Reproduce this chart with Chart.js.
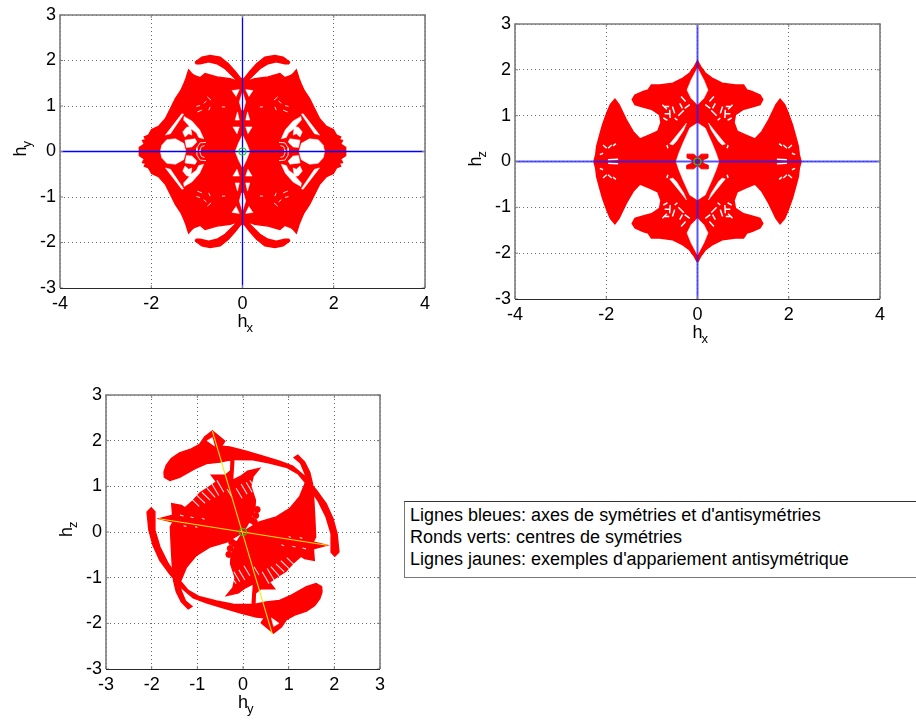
<!DOCTYPE html>
<html><head><meta charset="utf-8">
<script src="https://cdn.jsdelivr.net/npm/chart.js@4"></script>
<style>
html,body{margin:0;padding:0;background:#fff;width:916px;height:720px;overflow:hidden}
canvas{position:absolute;display:block}
#note{position:absolute;left:404px;top:501px;width:512px;height:77px;box-sizing:border-box;border-top:1px solid #333;border-left:1px solid #777;border-bottom:1px solid #777;padding:2px 0 0 5px;font:18px/22px "Liberation Sans",Arial,sans-serif;color:#000;white-space:nowrap}
</style></head><body>
<canvas id="c1" width="450" height="350" style="left:0;top:0"></canvas>
<canvas id="c2" width="466" height="360" style="left:450px;top:0"></canvas>
<canvas id="c3" width="360" height="350" style="left:40px;top:370px"></canvas>
<div id="note">Lignes bleues: axes de symétries et d'antisymétries<br>Ronds verts: centres de symétries<br>Lignes jaunes: exemples d'appariement antisymétrique</div>
<script>
const xyBody=[[-2.26,0],[-2.26,.09],[-2.15,.16],[-2.19,.24],[-2.12,.26],[-2.15,.32],[-2.06,.36],[-1.99,.48],[-1.84,.55],[-1.69,.72],[-1.58,.94],[-1.47,1.16],[-1.35,1.34],[-1.28,1.5],[-1.24,1.6],[-1.18,1.79],[-1.12,1.72],[-1.06,1.67],[-.93,1.62],[-.82,1.71],[-.56,1.64],[-.27,1.6],[-.07,1.53],[0,1.6],[0,0]];
const xyWing=[[-1.04,1.96],[-.89,2.07],[-.71,2.11],[-.49,2.07],[-.31,1.93],[-.16,1.76],[-.02,1.58],[-.09,1.53],[-.23,1.67],[-.38,1.82],[-.56,1.93],[-.74,1.97],[-.93,1.93],[-1.01,1.93]];
const xyHoles=[
 [[-1.8,0],[-1.77,.14],[-1.66,.26],[-1.47,.28],[-1.29,.18],[-1.24,0]],
 [[-1.69,.36],[-1.33,.83],[-1.29,.82],[-1.58,.39]],
 [[-1.28,.77],[-1.11,.67],[-.94,.48],[-.85,.28],[-.96,.31],[-1.01,.41],[-1.13,.5],[-1.11,.36],[-1.18,.39],[-1.26,.32],[-1.31,.43],[-1.23,.53],[-1.16,.55],[-1.29,.69]],
 [[-1.26,.25],[-1.04,.28],[-1,.21],[-1.11,.1],[-1.23,.09]],
 [[-.23,1.34],[-.07,1.36],[-.14,1.21]],
 [[0,1.31],[-.07,1.09],[-.02,.91],[0,.91]],
 [[-.11,.87],[-.07,.69],[-.16,.69]],
 [[-.21,.54],[-.07,.54],[-.12,.39]],
 [[0,.36],[-.09,.18],[-.16,0],[0,0]]
];
const xyDashes=[
 [[-.8,.2],[-.93,.19],[-1,.08],[-1,0]],[[-.83,.13],[-.9,.11],[-.93,.03],[-.93,0]],
 [[-1.01,.99],[-.93,1.01]],[[-.99,.87],[-.89,.91]],[[-.77,1.2],[-.69,1.13]],[[-.85,1.06],[-.79,1.11]],[[-.74,.91],[-.71,.98]],[[-.45,.98],[-.38,.98]]
];
// ---- h_x / h_z panel
const xzBody=[[-2.27,0],[-2.23,.15],[-2.21,.33],[-2.15,.55],[-2.08,.8],[-1.99,1.05],[-1.91,1.24],[-1.81,1.36],[-1.72,1.24],[-1.56,.91],[-1.41,.65],[-1.26,.49],[-1.05,.58],[-.87,.66],[-.8,.85],[-.83,1.02],[-1.01,1.14],[-1.23,1.2],[-1.37,1.24],[-1.43,1.35],[-1.37,1.45],[-1.19,1.53],[-1.08,1.56],[-1.01,1.67],[-.83,1.67],[-.54,1.71],[-.32,1.82],[-.17,1.93],[-.07,2.07],[-.01,2.18],[0,2.18],[0,0]];
const xzHoles=[
 [[0,2.04],[-.14,1.78],[-.23,1.56],[-.14,1.38],[0,1.24]],
 [[0,.84],[-.17,.73],[-.32,.4],[-.41,.18],[-.47,0],[0,0]],
 [[-.61,.38],[-.39,.65],[-.24,.84],[-.3,.69],[-.46,.44],[-.54,.36]]
];
const xzCross=[[-.23,.16],[-.08,.16],[0,.08],[0,0],[-.1,0],[-.15,.05],[-.23,.08]];
const xzDashes=[
 [[-.77,1.24],[-.67,1.14]],[[-.61,1.13],[-.6,.95]],[[-.42,1.0],[-.3,1.12]],[[-.72,1.04],[-.6,1.04]],[[-.36,1.42],[-.26,1.31]],[[-.39,1.27],[-.33,1.16]],[[-.28,1.16],[-.17,1.24]],
 [[-.72,1.2],[-.62,1.2]],[[-.55,1.2],[-.5,1.05]],[[-.75,.95],[-.66,.9]],[[-.5,.95],[-.44,.9]],
 [[-.67,.36],[-.65,.29]],[[-2.07,.36],[-1.99,.29]],[[-1.96,.29],[-1.88,.36]],[[-1.85,.34],[-1.79,.39]],[[-2.14,.15],[-2.07,.18]],[[-1.96,.04],[-1.74,.05]]
];
const yzArm=[[0,0],[.36,.22],[.73,.33],[1.02,.51],[1.24,.77],[1.36,1.06],[1.39,1.2],[1.26,1.51],[1.12,1.63],[1.2,1.68],[1.35,1.53],[1.46,1.31],[1.52,1.06],[1.55,.69],[1.57,.33],[1.59,-.11],[1.53,-.22],[1.83,-.29],[1.54,-.37],[1.56,-.62],[1.35,-.58],[1.27,-.53],[1.09,-.69],[.94,-.86],[.76,-.97],[.58,-1.1],[.69,-1.24],[.39,-1.24],[.27,-1.34],[.26,-1.6],[.2,-1.6],[.23,-1.13],[.05,-1.22],[-.1,-1.33],[-.36,-1.39],[-.22,-1.22],[-.17,-1],[-.27,-.7],[-.26,-.5],[-.12,-.2]];
const yzRibbon=[[-1.73,1.31],[-1.68,1.46],[-1.57,1.61],[-1.39,1.73],[-1.13,1.82],[-.95,1.92],[-.84,2.08],[-.67,2.21],[-.4,1.99],[-.47,1.88],[-.29,1.86],[.07,1.77],[.44,1.66],[.8,1.55],[1.09,1.44],[1.35,1.22],[1.61,.91],[1.82,.62],[1.97,.29],[2.06,-.04],[2.1,-.44],[2.01,-.53],[1.93,-.44],[1.93,-.04],[1.82,.33],[1.64,.69],[1.42,1.02],[1.2,1.28],[.95,1.42],[.58,1.51],[.22,1.58],[-.22,1.59],[-.51,1.53],[-.8,1.5],[-1.05,1.39],[-1.39,1.2],[-1.6,1.13],[-1.72,1.2]];
const yzHole=[[-.79,2],[-.67,2.07],[-.62,1.88]];
const yzDots=[[.28,.36],[.31,.49],[.18,.26],[.25,.22]];
const yzDashes=[
 [[-1.12,.72],[-.96,.56]],[[-1.01,.8],[-.83,.63]],[[-.9,.87],[-.72,.7]],[[-.79,.96],[-.61,.76]],[[-.68,1.05],[-.53,.8]],[[-.57,1.13],[-.42,.87]],[[-.35,.94],[-.24,.76]],
 [[-.15,.96],[-.02,.74]],[[-.04,1.05],[.09,.83]],[[.07,1.09],[.2,.87]],[[.15,1.13],[.29,.94]],
 [[-1.38,.37],[-1.3,.35]],[[-1.15,.33],[-1.08,.31]],[[-.9,.3],[-.84,.28]],[[-1.3,.14],[-1.24,.12]],[[-1.05,.12],[-1,.1]]
];
const yzYellow=[[[-.67,2.21],[.64,-2.23]],[[-1.84,.29],[1.84,-.29]]];
// ---- shared
const symmetryAxis=[[-4,0],[4,0]], symmetryAxisV=[[0,-3],[0,3]];
const centre=[[0,0]];
const noteFont='"Liberation Sans",Arial,sans-serif';

const pts=a=>a.map(p=>({x:p[0],y:p[1]}));
const gap={x:NaN,y:NaN};
const ring=a=>pts(a.concat([a[0]]));
const join=list=>list.flatMap(a=>[...a,gap]);
const mirror=(a,sx,sy)=>a.map(p=>[p[0]*sx,p[1]*sy]);
const four=a=>[mirror(a,1,1),mirror(a,-1,1),mirror(a,1,-1),mirror(a,-1,-1)];
const two=a=>[a,mirror(a,-1,-1)];
const shape=(label,polys,color,bw=1)=>({label,data:join(polys.map(ring)),showLine:true,fill:'shape',backgroundColor:color,borderColor:color,borderWidth:bw,pointRadius:0,tension:0});
const strokes=(label,lines,color,w)=>({label,data:join(lines.map(pts)),showLine:true,fill:false,borderColor:color,borderWidth:w,pointRadius:0,tension:0});
const ringMark={label:'centre',data:pts(centre),showLine:false,pointRadius:3.5,pointBorderWidth:1.2,pointBorderColor:'#22cc22',pointBackgroundColor:'rgba(0,0,0,0)'};

const framePlugin={id:'frame',afterDatasetsDraw(chart,_,o){
 const {ctx,chartArea:a,scales:{x,y}}=chart;
 ctx.save();ctx.strokeStyle='#7d7d7d';ctx.lineWidth=1;ctx.beginPath();
 x.ticks.forEach(t=>{const p=x.getPixelForValue(t.value);ctx.moveTo(p,a.top);ctx.lineTo(p,a.top+3);ctx.moveTo(p,a.bottom);ctx.lineTo(p,a.bottom-3);});
 y.ticks.forEach(t=>{const p=y.getPixelForValue(t.value);ctx.moveTo(a.left,p);ctx.lineTo(a.left+3,p);ctx.moveTo(a.right,p);ctx.lineTo(a.right-3,p);});
 ctx.stroke();ctx.lineWidth=1.6;ctx.beginPath();ctx.moveTo(a.left,a.bottom);ctx.lineTo(a.left,a.top);ctx.lineTo(a.right,a.top);ctx.lineTo(a.right,a.bottom);ctx.stroke();
 ctx.strokeStyle='#2a2a2a';ctx.lineWidth=1;ctx.beginPath();ctx.moveTo(a.left,a.bottom+.5);ctx.lineTo(a.right,a.bottom+.5);ctx.stroke();
 ctx.fillStyle='#000';ctx.textBaseline='alphabetic';ctx.textAlign='left';
 const cx=(a.left+a.right)/2,cy=(a.top+a.bottom)/2;
 const main='18px '+noteFont,sub='13px '+noteFont;
 ctx.font=main;ctx.fillText('h',cx-5,a.bottom+39);
 ctx.font=sub;ctx.fillText(o.xSub,cx+4,a.bottom+44);
 ctx.translate(a.left-34,cy);ctx.rotate(-Math.PI/2);
 ctx.font=main;ctx.fillText('h',-5,0);
 ctx.font=sub;ctx.fillText(o.ySub,4,5);
 ctx.restore();
}};
function make(id,datasets,xr,yr,box,subs){
 datasets.forEach((d,i)=>d.order=i);
 const axis=(r,size,isX)=>({type:'linear',min:r[0],max:r[1],
  afterFit(s){if(isX)s.height=size;else s.width=size;},
  ticks:{stepSize:isX&&r[1]===4?2:1,color:'#000',padding:isX?5:4,font:{family:noteFont,size:18},maxRotation:0,autoSkip:false},
  grid:{color:'#666',lineWidth:1,drawTicks:false},border:{display:false,dash:[1,3]}});
 new Chart(document.getElementById(id),{type:'scatter',data:{datasets},plugins:[framePlugin],
  options:{responsive:false,animation:false,
   layout:{padding:{left:0,top:box.top,right:box.right,bottom:0}},
   plugins:{legend:{display:false},tooltip:{enabled:false},frame:subs},
   scales:{x:axis(xr,box.xh,true),y:axis(yr,box.yw,false)}}});
}
make('c1',[
 ringMark,
 strokes('axes',[symmetryAxis,symmetryAxisV],'#0000ff',1.3),
 strokes('texture',xyDashes.flatMap(four),'rgba(255,255,255,0.85)',1),
 shape('gaps',xyHoles.flatMap(four),'#ffffff',0.5),
 shape('cloud',[...four(xyBody),...four(xyWing)],'#ff0000',1.5)
],[-4,4],[-3,3],{top:15,right:25,xh:62,yw:60},{xSub:'x',ySub:'y'});
make('c2',[
 ringMark,
 strokes('axes',[symmetryAxis,symmetryAxisV],'rgba(30,30,255,0.75)',2),
 shape('inner',four(xzCross),'#ff0000',1),
 strokes('texture',xzDashes.flatMap(four),'#ffffff',1.5),
 shape('gaps',xzHoles.flatMap(four),'#ffffff',0.5),
 shape('cloud',four(xzBody),'#ff0000',1.5)
],[-4,4],[-3,3],{top:24,right:36,xh:61,yw:65},{xSub:'x',ySub:'z'});
make('c3',[
 ringMark,
 strokes('pairs',yzYellow,'#ffe600',1.1),
 {label:'dots',data:pts([...yzDots,...mirror(yzDots,-1,-1)]),showLine:false,pointRadius:3,pointBackgroundColor:'#ff0000',pointBorderColor:'#ff0000'},
 strokes('texture',yzDashes.flatMap(two),'rgba(255,255,255,0.85)',1.1),
 shape('gaps',two(yzHole),'#ffffff',0.5),
 shape('cloud',[...two(yzArm),...two(yzRibbon)],'#ff0000',1.5)
],[-3,3],[-3,3],{top:25,right:20,xh:51,yw:66},{xSub:'y',ySub:'z'});
</script>
</body></html>
